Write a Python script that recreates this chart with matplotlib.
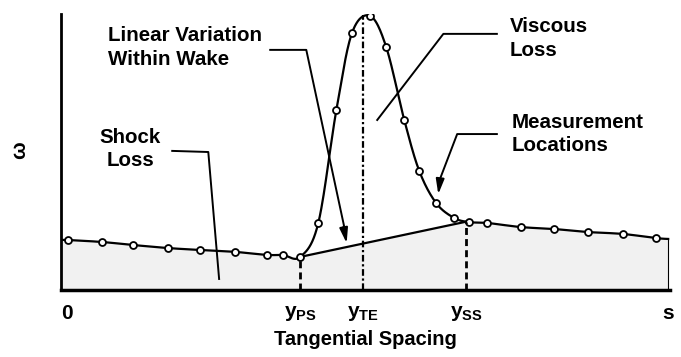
import numpy as np
import matplotlib
matplotlib.use("Agg")
import matplotlib.pyplot as plt

plt.rcParams['font.family'] = ['Liberation Sans', 'DejaVu Sans']
plt.rcParams['font.weight'] = 'bold'
plt.rcParams['mathtext.fontset'] = 'custom'
plt.rcParams['mathtext.rm'] = 'Liberation Sans:bold'
plt.rcParams['mathtext.it'] = 'Liberation Sans:bold'

# measurement locations (fraction of pitch s) and loss values
x_meas = [0.002, 0.058, 0.110, 0.168, 0.221, 0.280, 0.333, 0.359, 0.388,
          0.418, 0.448, 0.474, 0.504, 0.531, 0.561, 0.586, 0.614, 0.644,
          0.669, 0.699, 0.755, 0.810, 0.867, 0.925, 0.980]
w_meas = [0.181, 0.174, 0.163, 0.152, 0.145, 0.138, 0.127, 0.127, 0.120,
          0.243, 0.652, 0.931, 0.993, 0.880, 0.616, 0.431, 0.315, 0.261,
          0.246, 0.243, 0.228, 0.221, 0.210, 0.203, 0.188]
# curve continues to the plot edges
x_edge = [-0.01, 1.0]
w_edge = [0.181, 0.185]

y_ps = 0.388
y_te = 0.4925
y_ss = 0.664
tick_pos = [0.0, y_ps, y_te, y_ss, 1.0]
tick_lab = ['0', r'$y_{\mathregular{PS}}$', r'$y_{\mathregular{TE}}$', r'$y_{\mathregular{SS}}$', 's']


def smooth(x, y, n=24):
    pts = np.column_stack([x, y])
    p = np.vstack([pts[0], pts, pts[-1]])
    out = []
    t = np.linspace(0, 1, n, endpoint=False)[:, None]
    for i in range(1, len(p) - 2):
        p0, p1, p2, p3 = p[i - 1], p[i], p[i + 1], p[i + 2]
        seg = 0.5 * (2 * p1 + (-p0 + p2) * t + (2 * p0 - 5 * p1 + 4 * p2 - p3) * t ** 2
                     + (-p0 + 3 * p1 - 3 * p2 + p3) * t ** 3)
        out.append(seg)
    out.append(p[-2][None])
    return np.vstack(out)


xc = [x_edge[0]] + x_meas + [x_edge[1]]
wc = [w_edge[0]] + w_meas + [w_edge[1]]
curve = smooth(xc, wc)
cx, cw = curve[:, 0], curve[:, 1]

w_ps = np.interp(y_ps, cx, cw)
w_ss = np.interp(y_ss, cx, cw)
w_te = cw.max()

# baseline: curve outside wake, linear inside
base = cw.copy()
inside = (cx > y_ps) & (cx < y_ss)
base[inside] = w_ps + (cx[inside] - y_ps) * (w_ss - w_ps) / (y_ss - y_ps)

fig = plt.figure(figsize=(6.81, 3.57), dpi=100)
ax = fig.add_axes([61 / 681, 67 / 357, 609 / 681, 276 / 357])

ax.fill_between(cx, 0, base, color='#f1f1f1', lw=0)
ax.plot(cx, cw, color='black', lw=1.6)
ax.plot([y_ps, y_ss], [w_ps, w_ss], color='black', lw=1.6)
ax.plot(x_meas, w_meas, 'o', ms=5, mfc='white', mec='black', mew=1.3)

ax.plot([y_ps, y_ps], [0, w_ps], color='black', lw=2, ls=(0, (2.5, 1.5)))
ax.plot([y_ss, y_ss], [0, w_ss], color='black', lw=2, ls=(0, (2.5, 1.5)))
ax.plot([y_te, y_te], [0, w_te], color='black', lw=1.6, ls=(0, (3, 1.2, 1, 1.2)))
ax.plot([1.0, 1.0], [0, w_edge[1]], color='black', lw=0.8)

# leader lines
arrow = dict(arrowstyle='-|>,head_length=0.9,head_width=0.25', color='black', lw=1.4)
ax.plot([0.338, 0.398, 0.462], [0.870, 0.870, 0.22], color='black', lw=1.4, clip_on=False)
ax.annotate('', xy=(0.466, 0.160), xytext=(0.459, 0.24), arrowprops=arrow)
ax.plot([0.175, 0.235, 0.253], [0.504, 0.500, 0.040], color='black', lw=1.4)
ax.plot([0.715, 0.626, 0.516], [0.928, 0.928, 0.616], color='black', lw=1.4)
ax.plot([0.715, 0.649, 0.620], [0.565, 0.565, 0.400], color='black', lw=1.4)
ax.annotate('', xy=(0.617, 0.337), xytext=(0.621, 0.41), arrowprops=arrow)

fs = 14.8
ls = 1.3
ax.text(0.068, 0.955, 'Linear Variation\nWithin Wake', ha='left', va='top', fontsize=fs, linespacing=ls)
ax.text(0.105, 0.588, 'Shock\nLoss', ha='center', va='top', fontsize=fs, linespacing=ls)
ax.text(0.737, 0.989, 'Viscous\nLoss', ha='left', va='top', fontsize=fs, linespacing=ls, clip_on=False)
ax.text(0.739, 0.643, 'Measurement\nLocations', ha='left', va='top', fontsize=fs, linespacing=ls)

ax.set_xlim(-0.01, 1.003)
ax.set_ylim(0, 1.0)
ax.set_xticks(tick_pos)
ax.set_xticklabels(tick_lab, fontsize=15)
ax.tick_params(axis='x', length=0, pad=10)
ax.set_yticks([])
ax.spines['top'].set_visible(False)
ax.spines['right'].set_visible(False)
ax.spines['left'].set_linewidth(2)
ax.spines['bottom'].set_linewidth(2.5)
ax.set_xlabel('Tangential Spacing', fontsize=14.5, fontweight='bold', labelpad=5)
fig.text(20 / 681, 1 - 150 / 357, 'ω', rotation=90, ha='center', va='center', fontsize=15)

fig.savefig('out.png', dpi=100)
